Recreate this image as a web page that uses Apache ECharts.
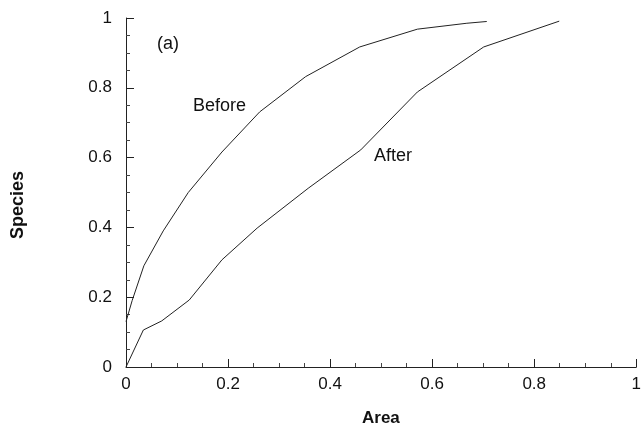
<!DOCTYPE html>
<html>
<head>
<meta charset="utf-8">
<script src="https://cdn.jsdelivr.net/npm/echarts@6/dist/echarts.min.js"></script>
<style>
  html, body { margin: 0; padding: 0; background: #fff; }
  #chart { width: 644px; height: 436px; }
</style>
</head>
<body>
<div id="chart"></div>
<script>
// values
const beforeArea = [0, 0.012, 0.035, 0.073, 0.122, 0.188, 0.262, 0.352, 0.458, 0.571, 0.668, 0.707]
const beforeSpecies = [0.13, 0.19, 0.29, 0.39, 0.5, 0.616, 0.731, 0.832, 0.917, 0.968, 0.985, 0.99]
const afterArea = [0, 0.034, 0.07, 0.124, 0.188, 0.257, 0.357, 0.46, 0.571, 0.701, 0.849]
const afterSpecies = [0, 0.106, 0.132, 0.192, 0.307, 0.398, 0.512, 0.622, 0.788, 0.917, 0.991]

const zip = (xs, ys) => xs.map((x, i) => [x, ys[i]])

const font = 'Liberation Sans, Arial, sans-serif'
const chart = echarts.init(document.getElementById('chart'))

const axisCommon = {
  type: 'value',
  min: 0,
  max: 1,
  interval: 0.2,
  axisLine: { show: true, lineStyle: { color: '#222', width: 1 } },
  axisTick: { show: true, inside: true, length: 8, lineStyle: { color: '#222' } },
  minorTick: { show: true, splitNumber: 4, length: 4, lineStyle: { color: '#444' } },
  splitLine: { show: false },
  axisLabel: { color: '#111', fontSize: 17, fontFamily: font }
}

chart.setOption({
  animation: false,
  grid: { left: 126, right: 3, top: 18, bottom: 69 },
  xAxis: Object.assign({}, axisCommon, {
    axisLabel: Object.assign({}, axisCommon.axisLabel, { margin: 9 })
  }),
  yAxis: Object.assign({}, axisCommon, {
    axisLabel: Object.assign({}, axisCommon.axisLabel, { margin: 14 })
  }),
  series: [
    {
      name: 'Before',
      type: 'line',
      data: zip(beforeArea, beforeSpecies),
      showSymbol: false,
      lineStyle: { color: '#222', width: 1 }
    },
    {
      name: 'After',
      type: 'line',
      data: zip(afterArea, afterSpecies),
      showSymbol: false,
      lineStyle: { color: '#222', width: 1 }
    }
  ],
  graphic: [
    { type: 'text', left: 157, top: 35, style: { text: '(a)', fontSize: 18, fontFamily: font, fill: '#111' } },
    { type: 'text', left: 193, top: 97, style: { text: 'Before', fontSize: 18, fontFamily: font, fill: '#111' } },
    { type: 'text', left: 374, top: 147, style: { text: 'After', fontSize: 18, fontFamily: font, fill: '#111' } },
    { type: 'text', left: 362, top: 410, style: { text: 'Area', fontSize: 17, fontWeight: 'bold', fontFamily: font, fill: '#111' } },
    {
      type: 'text', x: 9, y: 239, rotation: Math.PI / 2,
      style: { text: 'Species', fontSize: 18, fontWeight: 'bold', fontFamily: font, fill: '#111' }
    }
  ]
})
</script>
</body>
</html>
